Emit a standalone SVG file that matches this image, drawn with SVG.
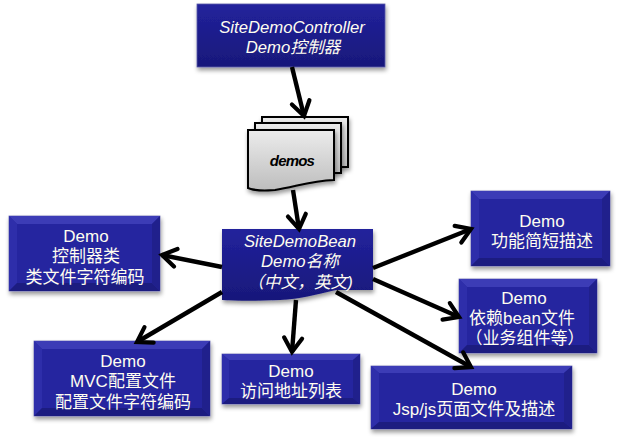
<svg xmlns="http://www.w3.org/2000/svg" width="619" height="442" viewBox="0 0 619 442">
<defs>
<linearGradient id="blue" x1="0" y1="0" x2="0" y2="1"><stop offset="0" stop-color="#22229c"/><stop offset="1" stop-color="#18187a"/></linearGradient>
<linearGradient id="gray" x1="0" y1="0" x2="0" y2="1"><stop offset="0" stop-color="#ececec"/><stop offset="1" stop-color="#bdbdbd"/></linearGradient>
<filter id="sh" x="-10%" y="-10%" width="120%" height="125%"><feDropShadow dx="1" dy="3" stdDeviation="2" flood-color="#000" flood-opacity="0.4"/></filter>
<marker id="arrow" viewBox="0 0 24 24" refX="20" refY="12" markerWidth="24" markerHeight="24" markerUnits="userSpaceOnUse" orient="auto"><path d="M6 3 L20 12 L6 21" fill="none" stroke="#000" stroke-width="4.2" stroke-linecap="round" stroke-linejoin="miter"/></marker>
</defs>
<style>
text{font-family:"Liberation Sans","Noto Sans CJK SC",sans-serif;font-size:17px;fill:#fffdf0;text-anchor:middle}
.i{font-style:italic;font-size:16.7px}
.box{fill:#25259f;stroke:#6a6ab0;stroke-width:.8;filter:url(#sh)}
.t{fill:#3c3cb6}.l{fill:#2e2eaa}.b{fill:#1c1c80}.r{fill:#20208c}
.c{fill:none;stroke:#000;stroke-width:4.4;marker-end:url(#arrow)}
.p{stroke:#000;stroke-width:2;fill:url(#gray);filter:url(#sh)}
</style>
<g id="controller"><rect x="197" y="4" width="188" height="63" fill="url(#blue)" stroke="#5a5aa8" stroke-width=".8" filter="url(#sh)"/>
<text class="i" x="292" y="33">SiteDemoController</text><text class="i" x="293" y="53">Demo控制器</text></g>
<g id="demos">
<rect class="p" x="262" y="117" width="86" height="50"/>
<rect class="p" x="255" y="123" width="86" height="50"/>
<path class="p" d="M248 130 H334 V180 C310 181 295 187 275 190 C262 191 255 191 248 188 Z"/>
<text x="292" y="166" style="font-size:15px;font-weight:bold;font-style:italic;fill:#000;letter-spacing:-.8px">demos</text></g>
<g id="bean"><path d="M222 229 H373 V290 H336 C315 295 300 299 280 300 C255 301 240 301 222 300 Z" fill="url(#blue)" filter="url(#sh)"/>
<text class="i" x="300" y="247">SiteDemoBean</text><text class="i" x="300" y="267">Demo名称</text><text class="i" x="300" y="288">（中文，英文)</text></g>
<g id="class"><rect class="box" x="9" y="216" width="151" height="75"/><path class="t" d="M9 216H160L152 224H17Z"/><path class="l" d="M9 216L17 224V283L9 291Z"/><path class="b" d="M9 291L17 283H152L160 291Z"/><path class="r" d="M160 216L152 224V283L160 291Z"/><rect x="17" y="224" width="135" height="59" fill="#25259f"/>
<text x="86" y="242">Demo</text><text x="86" y="262">控制器类</text><text x="85" y="283">类文件字符编码</text></g>
<g id="mvc"><rect class="box" x="34" y="341" width="176" height="75"/><path class="t" d="M34 341H210L202 349H42Z"/><path class="l" d="M34 341L42 349V408L34 416Z"/><path class="b" d="M34 416L42 408H202L210 416Z"/><path class="r" d="M210 341L202 349V408L210 416Z"/><rect x="42" y="349" width="160" height="59" fill="#25259f"/>
<text x="123" y="367">Demo</text><text x="123" y="387">MVC配置文件</text><text x="123" y="408">配置文件字符编码</text></g>
<g id="url"><rect class="box" x="222" y="354" width="138" height="50"/><path class="t" d="M222 354H360L353 360H229Z"/><path class="l" d="M222 354L229 360V398L222 404Z"/><path class="b" d="M222 404L229 398H353L360 404Z"/><path class="r" d="M360 354L353 360V398L360 404Z"/><rect x="229" y="360" width="124" height="38" fill="#25259f"/>
<text x="291" y="377">Demo</text><text x="291" y="397">访问地址列表</text></g>
<g id="func"><rect class="box" x="471" y="191" width="139" height="75"/><path class="t" d="M471 191H610L602 199H479Z"/><path class="l" d="M471 191L479 199V258L471 266Z"/><path class="b" d="M471 266L479 258H602L610 266Z"/><path class="r" d="M610 191L602 199V258L610 266Z"/><rect x="479" y="199" width="123" height="59" fill="#25259f"/>
<text x="542" y="227">Demo</text><text x="542" y="247">功能简短描述</text></g>
<g id="dep"><rect class="box" x="459" y="279" width="138" height="74"/><path class="t" d="M459 279H597L589 287H467Z"/><path class="l" d="M459 279L467 287V345L459 353Z"/><path class="b" d="M459 353L467 345H589L597 353Z"/><path class="r" d="M597 279L589 287V345L597 353Z"/><rect x="467" y="287" width="122" height="58" fill="#25259f"/>
<text x="524" y="304">Demo</text><text x="522" y="324">依赖bean文件</text><text x="525" y="344">（业务组件等）</text></g>
<g id="jsp"><rect class="box" x="371" y="366" width="201" height="63"/><path class="t" d="M371 366H572L564 373H379Z"/><path class="l" d="M371 366L379 373V422L371 429Z"/><path class="b" d="M371 429L379 422H564L572 429Z"/><path class="r" d="M572 366L564 373V422L572 429Z"/><rect x="379" y="373" width="185" height="49" fill="#25259f"/>
<text x="474" y="395">Demo</text><text x="474" y="415">Jsp/js页面文件及描述</text></g>
<g id="connectors">
<path class="c" d="M292 67 L304 116"/>
<path class="c" d="M293 190 L299 229"/>
<path class="c" d="M222 267 L162 255"/>
<path class="c" d="M222 292 L137 342"/>
<path class="c" d="M296 300 L292 352"/>
<path class="c" d="M373 268 L471 229"/>
<path class="c" d="M373 279 L459 317"/>
<path class="c" d="M336 292 L471 367"/>
</g>
</svg>
